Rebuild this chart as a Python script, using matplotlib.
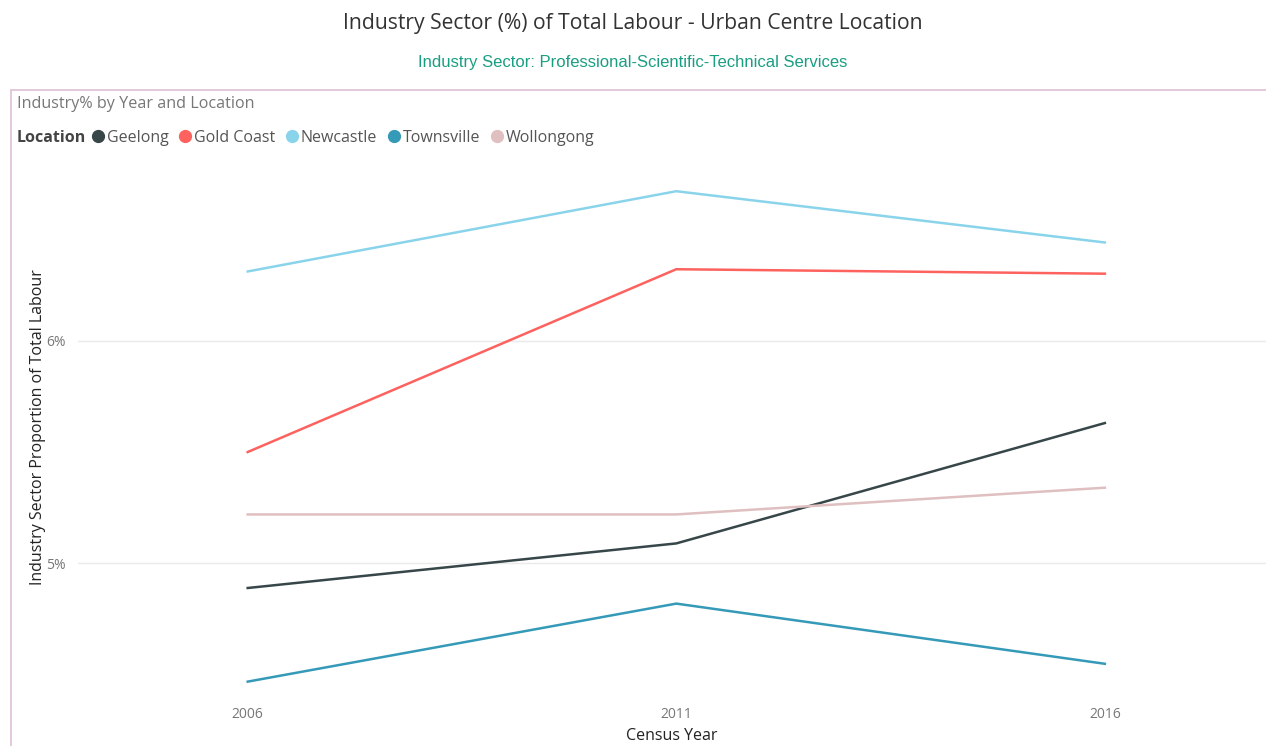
import matplotlib.pyplot as plt
from matplotlib.patches import Rectangle
from matplotlib.lines import Line2D

years = [2006, 2011, 2016]
locations = ['Geelong', 'Gold Coast', 'Newcastle', 'Townsville', 'Wollongong']
geelong = [4.89, 5.09, 5.63]
gold_coast = [5.50, 6.32, 6.30]
newcastle = [6.31, 6.67, 6.44]
townsville = [4.47, 4.82, 4.55]
wollongong = [5.22, 5.22, 5.34]
y_ticks = [5, 6]
y_tick_labels = ['5%', '6%']

series = [geelong, gold_coast, newcastle, townsville, wollongong]
colors = ['#374649', '#FD625E', '#8AD4EB', '#3599B8', '#DFBFBF']

plt.rcParams['font.family'] = ['Open Sans', 'DejaVu Sans']

fig = plt.figure(figsize=(12.66, 7.46), dpi=100)
W, H = 1266, 746

# pink frame of the visual (bottom and right run off the picture)
fig.patches.append(Rectangle((11 / W, -0.05), 1.0, (746 - 90) / H + 0.05, transform=fig.transFigure,
                             fill=False, edgecolor='#DDBFD6', linewidth=1.2))

fig.text(0.5, 1 - 24 / H, 'Industry Sector (%) of Total Labour - Urban Centre Location',
         ha='center', va='center', fontsize=15.2, color='#333333')
fig.text(0.5, 1 - 62 / H, 'Industry Sector: Professional-Scientific-Technical Services',
         ha='center', va='center', fontsize=12, color='#1A9E82', family='Liberation Sans')
fig.text(17 / W, 1 - 104 / H, 'Industry% by Year and Location',
         ha='left', va='center', fontsize=11.6, color='#777777')

ax = fig.add_axes([78 / W, 1 - 695 / H, (1266 - 78) / W, (695 - 160) / H])

for vals, col, name in zip(series, colors, locations):
    ax.plot(years, vals, color=col, linewidth=1.8, label=name)

ax.set_xlim(2004.02, 2017.88)
ax.set_ylim(4.41, 6.81)
ax.set_xticks(years)
ax.set_xticklabels([str(y) for y in years])
ax.set_yticks(y_ticks)
ax.set_yticklabels(y_tick_labels)
ax.tick_params(axis='both', length=0, colors='#777777', labelsize=10)
ax.tick_params(axis='y', pad=9)
ax.tick_params(axis='x', pad=9)
ax.grid(axis='y', color='#EAEAEA', linewidth=1)
for s in ax.spines.values():
    s.set_visible(False)
ax.set_xlabel('Census Year', fontsize=11.5, color='#222222', labelpad=4)
ax.set_ylabel('Industry Sector Proportion of Total Labour', fontsize=11.5, color='#222222', labelpad=0)

# legend row
handles = [Line2D([], [], marker='o', linestyle='none', markersize=8.5, color=c) for c in colors]
fig.text(17 / W, 1 - 138 / H, 'Location', ha='left', va='center', fontsize=11.5,
         color='#444444', weight='bold')
leg = fig.legend(handles, locations, loc='center left', bbox_to_anchor=(86 / W, 1 - 138 / H),
                 ncol=5, frameon=False, fontsize=11.5, handletextpad=-0.2, columnspacing=0.3,
                 handlelength=1.5, borderaxespad=0, borderpad=0)
for t in leg.get_texts():
    t.set_color('#555555')

fig.savefig('out.png', dpi=100)
